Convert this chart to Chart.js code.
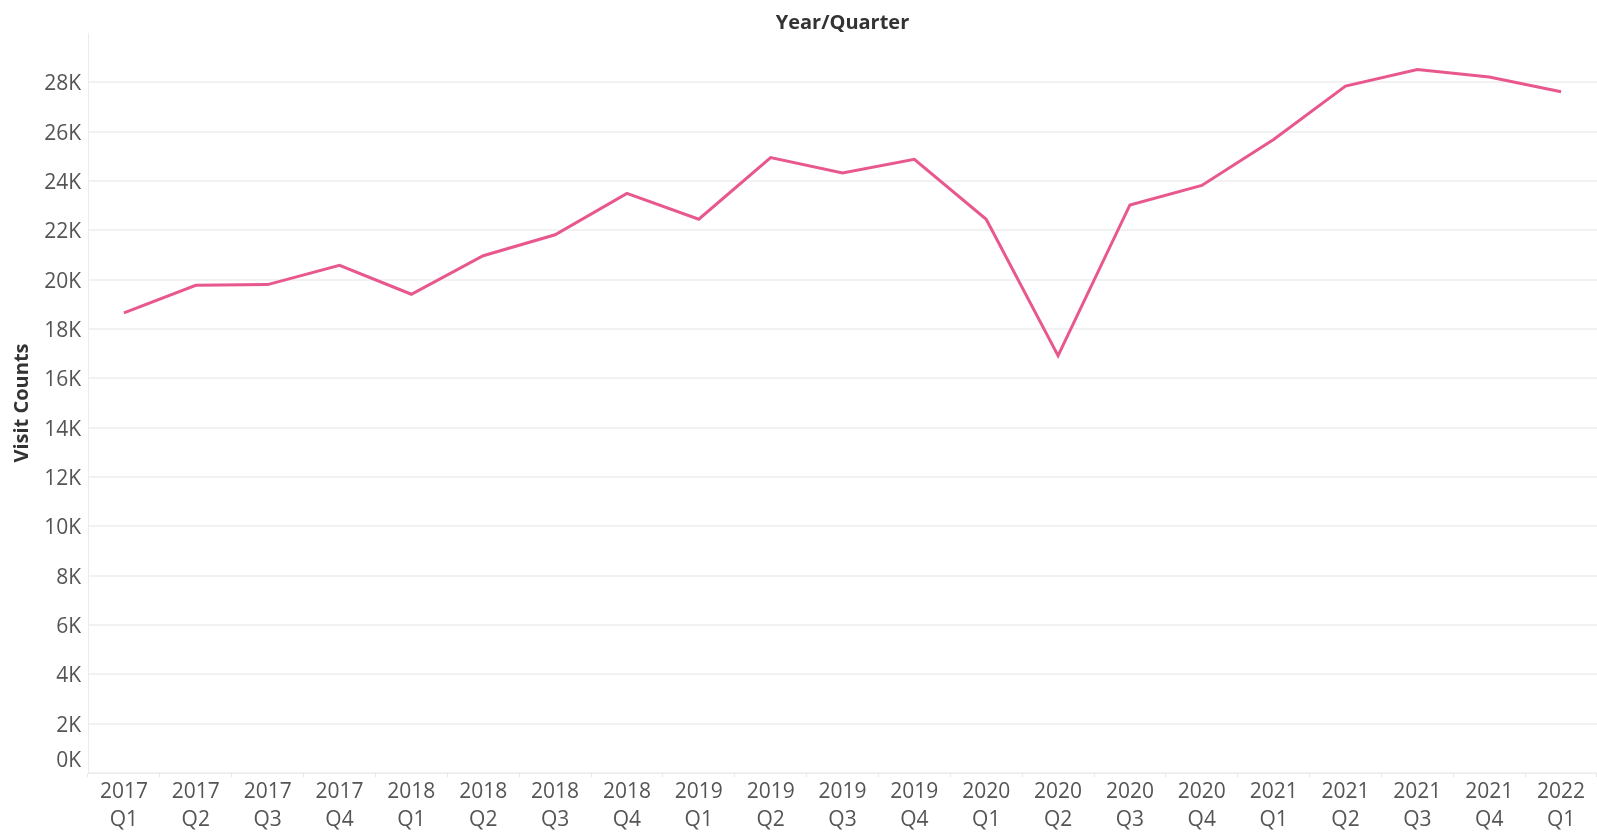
<!DOCTYPE html>
<html lang="en">
<head>
    <meta charset="UTF-8">
    <title>Visit Counts by Year/Quarter</title>
    <script src="https://cdn.jsdelivr.net/npm/chart.js"></script>
    <style>
        html, body { margin: 0; padding: 0; background: #fff; }
        #wrap { width: 1597px; height: 838px; position: relative; }
    </style>
</head>
<body>
    <div id="wrap">
        <canvas id="myChart"></canvas>
    </div>

    <script>
        // data
        const years = ['2017','2017','2017','2017','2018','2018','2018','2018','2019','2019','2019',
                       '2019','2020','2020','2020','2020','2021','2021','2021','2021','2022'];
        const quarters = ['Q1','Q2','Q3','Q4','Q1','Q2','Q3','Q4','Q1','Q2','Q3',
                          'Q4','Q1','Q2','Q3','Q4','Q1','Q2','Q3','Q4','Q1'];
        const visitCounts = [18650, 19770, 19800, 20580, 19410, 20970, 21820, 23500, 22450, 24950, 24330,
                             24880, 22450, 16920, 23030, 23820, 25680, 27850, 28520, 28220, 27620];
        const yTicks = [0, 2000, 4000, 6000, 8000, 10000, 12000, 14000, 16000, 18000, 20000, 22000, 24000, 26000, 28000];

        const labels = years.map((y, i) => [y, quarters[i]]);

        const tickFont = { family: 'Open Sans', size: 21, lineHeight: 1.333 };
        const titleFont = { family: 'Open Sans', size: 20, weight: 'bold', lineHeight: 1 };

        var ctx = document.querySelector('#myChart').getContext('2d');

        var myChart = new Chart(ctx, {
            type: 'line',
            data: {
                labels: labels,
                datasets: [{
                    label: 'Visit Counts',
                    data: visitCounts,
                    borderColor: '#e8578d',
                    backgroundColor: '#e8578d',
                    borderWidth: 3,
                    pointRadius: 0,
                    tension: 0,
                    xAxisID: 'x',
                }]
            },
            options: {
                responsive: true,
                maintainAspectRatio: false,
                animation: false,
                layout: { padding: { top: 0, left: 0, right: 0, bottom: 3 } },
                plugins: {
                    legend: { display: false },
                    tooltip: { enabled: false },
                    title: { display: false }
                },
                scales: {
                    // top axis only carries the "Year/Quarter" header, centred over the plot
                    xTop: {
                        type: 'category',
                        position: 'top',
                        labels: labels,
                        offset: true,
                        grid: { display: false, drawTicks: false },
                        border: { display: false },
                        ticks: { display: false },
                        title: {
                            display: true,
                            text: 'Year/Quarter',
                            color: '#333',
                            font: titleFont,
                            padding: { top: 13, bottom: 0 },
                        }
                    },
                    x: {
                        position: 'bottom',
                        offset: true,
                        grid: {
                            offset: true,
                            drawOnChartArea: false,
                            tickLength: 4,
                            color: '#e6e6e6',
                        },
                        border: { display: true, color: '#ececec', width: 1 },
                        ticks: {
                            color: '#555',
                            font: tickFont,
                            padding: 1,
                            maxRotation: 0,
                            autoSkip: false,
                        }
                    },
                    y: {
                        min: 0,
                        max: 30000,
                        afterBuildTicks: (scale) => {
                            scale.ticks = yTicks.concat([30000]).map(v => ({ value: v }));
                        },
                        afterFit: (scale) => { scale.width = 88; },
                        grid: {
                            color: (c) => c.tick && c.tick.value === 30000 ? 'rgba(0,0,0,0)' : '#f2f2f2',
                            lineWidth: 2,
                            drawTicks: false,
                        },
                        border: { display: true, color: '#ececec', width: 1 },
                        ticks: {
                            color: '#555',
                            font: tickFont,
                            padding: 7,
                            labelOffset: 2,
                            autoSkip: false,
                            callback: (v) => {
                                if (v === 30000) return '';
                                if (v === 0) return ['0K', ''];   // baseline label sits a bit higher
                                return (v / 1000) + 'K';
                            },
                        },
                        title: {
                            display: true,
                            text: 'Visit Counts',
                            color: '#333',
                            font: titleFont,
                            padding: { top: 12, bottom: 0 },
                        }
                    }
                }
            }
        });
    </script>
</body>
</html>
